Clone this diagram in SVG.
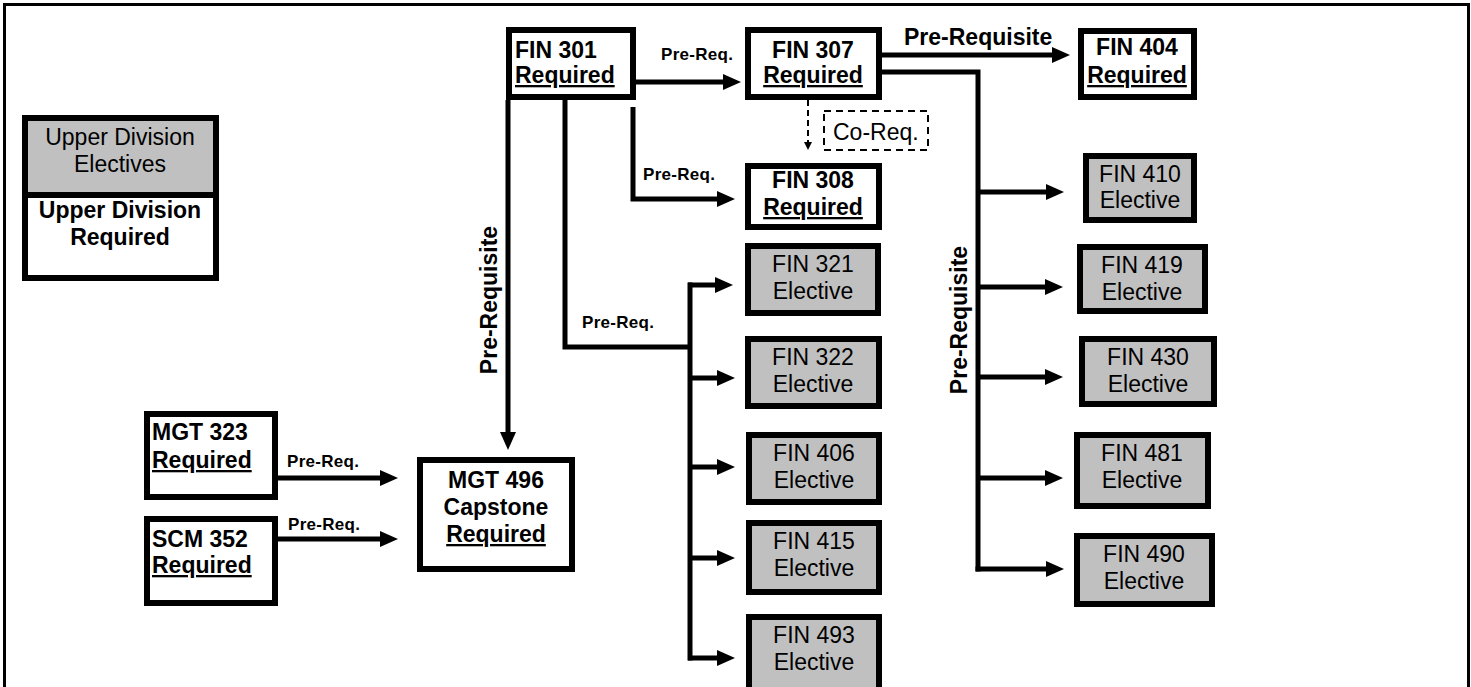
<svg xmlns="http://www.w3.org/2000/svg" width="1471" height="687" viewBox="0 0 1471 687">
<style>
.req{fill:#fff;stroke:#000;stroke-width:6}
.ele{fill:#c0c0c0;stroke:#000;stroke-width:6}
.t{font-family:"Liberation Sans",Arial,sans-serif;font-size:23px;fill:#000}
.b{font-weight:bold}
.m{text-anchor:middle}
.u{text-decoration:underline}
.lbl{font-family:"Liberation Sans",Arial,sans-serif;font-size:17px;font-weight:bold;fill:#000;letter-spacing:0.3px}
.lbl2{font-family:"Liberation Sans",Arial,sans-serif;font-size:23px;font-weight:bold;fill:#000}
.c{fill:none;stroke:#000;stroke-width:5}
</style>
<defs>
<marker id="ah" markerUnits="userSpaceOnUse" markerWidth="18" markerHeight="16" refX="6" refY="8" orient="auto">
<path d="M0,0 L18,8 L0,16 z" fill="#000"/>
</marker>
<marker id="sh" markerUnits="userSpaceOnUse" markerWidth="8" markerHeight="8" refX="2" refY="4" orient="auto">
<path d="M0,0 L8,4 L0,8 z" fill="#000"/>
</marker>
</defs>
<rect width="1471" height="687" fill="#fff"/>
<path d="M4.5,687 V4.5 H1468.5 V687" fill="none" stroke="#000" stroke-width="3"/>

<g id="legend">
<rect x="25" y="118" width="191" height="160" class="req"/>
<rect x="25" y="118" width="191" height="77" class="ele"/>
<text class="t m" x="120" y="145">Upper Division</text>
<text class="t m" x="120" y="172">Electives</text>
<text class="t b m" x="120" y="218">Upper Division</text>
<text class="t b m" x="120" y="245">Required</text>
</g>

<g id="connectors">
<path class="c" d="M636,82 H729" marker-end="url(#ah)"/>
<path class="c" d="M633,107 V199 H723" marker-end="url(#ah)"/>
<path class="c" d="M508,100 V438" marker-end="url(#ah)"/>
<path class="c" d="M565,100 V347 H690"/>
<path class="c" d="M690,282.5 V660.5"/>
<path class="c" d="M688,285 H721" marker-end="url(#ah)"/>
<path class="c" d="M690,378 H723" marker-end="url(#ah)"/>
<path class="c" d="M690,467 H723" marker-end="url(#ah)"/>
<path class="c" d="M690,558 H723" marker-end="url(#ah)"/>
<path class="c" d="M688,658 H723" marker-end="url(#ah)"/>
<path class="c" d="M882,55 H1058" marker-end="url(#ah)"/>
<path class="c" d="M882,72 H978 V571.5"/>
<path class="c" d="M978,192 H1052" marker-end="url(#ah)"/>
<path class="c" d="M978,287 H1051" marker-end="url(#ah)"/>
<path class="c" d="M978,377 H1051" marker-end="url(#ah)"/>
<path class="c" d="M978,478 H1051" marker-end="url(#ah)"/>
<path class="c" d="M975.5,569 H1052" marker-end="url(#ah)"/>
<path class="c" d="M278,478 H386" marker-end="url(#ah)"/>
<path class="c" d="M278,539 H386" marker-end="url(#ah)"/>
<path d="M808,100 V144" fill="none" stroke="#000" stroke-width="2" stroke-dasharray="6,4" marker-end="url(#sh)"/>
<text class="lbl" x="661" y="60">Pre-Req.</text>
<text class="lbl" x="643" y="180">Pre-Req.</text>
<text class="lbl" x="582" y="328">Pre-Req.</text>
<text class="lbl" x="287" y="467">Pre-Req.</text>
<text class="lbl" x="288" y="530">Pre-Req.</text>
<text class="lbl2" x="904" y="45">Pre-Requisite</text>
<text class="lbl2 m" transform="translate(497,300) rotate(-90)">Pre-Requisite</text>
<text class="lbl2 m" transform="translate(967,320) rotate(-90)">Pre-Requisite</text>
<g id="coreq">
<rect x="824" y="111" width="104" height="39" fill="none" stroke="#000" stroke-width="2" stroke-dasharray="7,5"/>
<text class="t" x="833" y="140">Co-Req.</text>
</g>
</g>

<g id="fin301"><rect x="509" y="30" width="124" height="67" class="req"/>
<text class="t b" x="515" y="58">FIN 301</text><text class="t b u" x="515" y="83">Required</text></g>
<g id="fin307"><rect x="748" y="30" width="131" height="67" class="req"/>
<text class="t b m" x="813" y="58">FIN 307</text><text class="t b m u" x="813" y="83">Required</text></g>
<g id="fin404"><rect x="1081" y="31" width="113" height="66" class="req"/>
<text class="t b m" x="1137" y="55">FIN 404</text><text class="t b m u" x="1137" y="83">Required</text></g>
<g id="fin308"><rect x="748" y="166" width="131" height="61" class="req"/>
<text class="t b m" x="813" y="188">FIN 308</text><text class="t b m u" x="813" y="215">Required</text></g>

<g id="fin410"><rect x="1086" y="156" width="108" height="64" class="ele"/>
<text class="t m" x="1140" y="182">FIN 410</text><text class="t m" x="1140" y="208">Elective</text></g>
<g id="fin419"><rect x="1080" y="247" width="125" height="64" class="ele"/>
<text class="t m" x="1142" y="273">FIN 419</text><text class="t m" x="1142" y="300">Elective</text></g>
<g id="fin430"><rect x="1082" y="339" width="132" height="65" class="ele"/>
<text class="t m" x="1148" y="365">FIN 430</text><text class="t m" x="1148" y="392">Elective</text></g>
<g id="fin481"><rect x="1077" y="435" width="131" height="71" class="ele"/>
<text class="t m" x="1142" y="461">FIN 481</text><text class="t m" x="1142" y="488">Elective</text></g>
<g id="fin490"><rect x="1077" y="536" width="135" height="68" class="ele"/>
<text class="t m" x="1144" y="562">FIN 490</text><text class="t m" x="1144" y="589">Elective</text></g>

<g id="fin321"><rect x="748" y="246" width="130" height="67" class="ele"/>
<text class="t m" x="813" y="272">FIN 321</text><text class="t m" x="813" y="299">Elective</text></g>
<g id="fin322"><rect x="748" y="339" width="131" height="67" class="ele"/>
<text class="t m" x="813" y="365">FIN 322</text><text class="t m" x="813" y="392">Elective</text></g>
<g id="fin406"><rect x="749" y="435" width="130" height="67" class="ele"/>
<text class="t m" x="814" y="461">FIN 406</text><text class="t m" x="814" y="488">Elective</text></g>
<g id="fin415"><rect x="749" y="523" width="130" height="69" class="ele"/>
<text class="t m" x="814" y="549">FIN 415</text><text class="t m" x="814" y="576">Elective</text></g>
<g id="fin493"><rect x="749" y="617" width="130" height="80" class="ele"/>
<text class="t m" x="814" y="643">FIN 493</text><text class="t m" x="814" y="670">Elective</text></g>

<g id="mgt323"><rect x="147" y="414" width="128" height="83" class="req"/>
<text class="t b" x="152" y="440">MGT 323</text><text class="t b u" x="152" y="468">Required</text></g>
<g id="scm352"><rect x="147" y="519" width="128" height="84" class="req"/>
<text class="t b" x="152" y="547">SCM 352</text><text class="t b u" x="152" y="573">Required</text></g>
<g id="mgt496"><rect x="420" y="460" width="152" height="109" class="req"/>
<text class="t b m" x="496" y="488">MGT 496</text><text class="t b m" x="496" y="515">Capstone</text><text class="t b m u" x="496" y="542">Required</text></g>
</svg>
